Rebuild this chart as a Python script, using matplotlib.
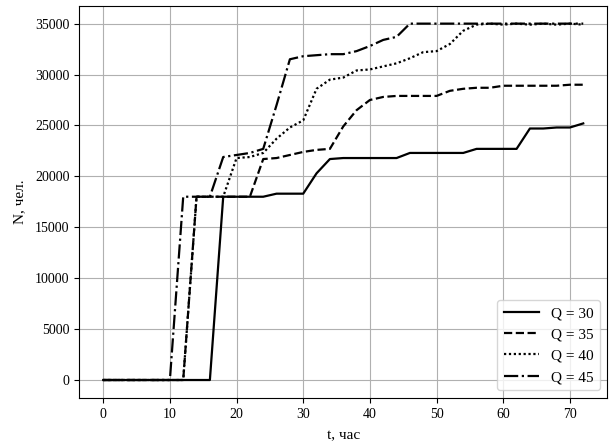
import matplotlib
matplotlib.use('Agg')
import matplotlib.pyplot as plt

plt.rcParams['font.family'] = ['Liberation Serif', 'DejaVu Serif']
plt.rcParams['font.size'] = 10

t = list(range(0, 73, 2))

n_q30 = [0, 0, 0, 0, 0, 0, 0, 0, 0, 18000, 18000, 18000, 18000, 18300, 18300, 18300,
         20300, 21700, 21800, 21800, 21800, 21800, 21800, 22300, 22300, 22300, 22300,
         22300, 22700, 22700, 22700, 22700, 24700, 24700, 24800, 24800, 25200]
n_q35 = [0, 0, 0, 0, 0, 0, 0, 18000, 18000, 18000, 18000, 18000, 21700, 21800, 22100,
         22400, 22600, 22700, 24900, 26500, 27500, 27800, 27900, 27900, 27900, 27900,
         28400, 28600, 28700, 28700, 28900, 28900, 28900, 28900, 28900, 29000, 29000]
n_q40 = [0, 0, 0, 0, 0, 0, 0, 18000, 18000, 18000, 21800, 21900, 22300, 23700, 24800,
         25500, 28600, 29500, 29700, 30400, 30500, 30800, 31100, 31600, 32200, 32300,
         33000, 34300, 34900, 35000, 34900, 35000, 34900, 35000, 34900, 35000, 34900]
n_q45 = [0, 0, 0, 0, 0, 0, 18000, 18000, 18000, 21900, 22100, 22300, 22700, 27000, 31500,
         31800, 31900, 32000, 32000, 32300, 32800, 33400, 33700, 35000, 35000, 35000,
         35000, 35000, 35000, 35000, 35000, 35000, 35000, 35000, 35000, 35000, 35000]

fig = plt.figure(figsize=(6.14, 4.47), dpi=100)
ax = fig.add_axes([0.129, 0.110, 0.860, 0.877])

ax.plot(t, n_q30, color='black', linestyle='-', linewidth=1.6, label='Q = 30')
ax.plot(t, n_q35, color='black', linestyle='--', linewidth=1.6, label='Q = 35')
ax.plot(t, n_q40, color='black', linestyle=(0, (1, 1.2)), linewidth=1.6, label='Q = 40')
ax.plot(t, n_q45, color='black', linestyle='-.', linewidth=1.6, label='Q = 45')

ax.set_xticks(range(0, 71, 10))
ax.set_yticks(range(0, 35001, 5000))
ax.grid(True, color='#b0b0b0', linewidth=0.8)
ax.set_xlabel('t, час', fontsize=11, labelpad=6)
ax.set_ylabel('N, чел.', fontsize=11, labelpad=6)
ax.legend(loc='lower right', fontsize=11, handlelength=2.3)

fig.savefig('out.png', dpi=100)
